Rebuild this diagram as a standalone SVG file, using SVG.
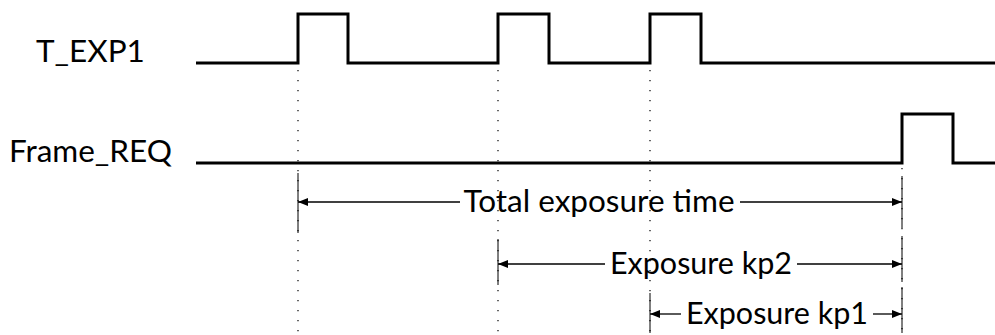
<svg xmlns="http://www.w3.org/2000/svg" width="995" height="335" viewBox="0 0 995 335">
  <defs>
    <style>
      .sig { fill: none; stroke: #000; stroke-width: 3; stroke-linejoin: miter; }
      .dot { stroke: #000; stroke-width: 1.2; stroke-dasharray: 1.2 8.8; fill: none; }
      .ext { stroke: #000; stroke-width: 1; fill: none; }
      .dim { stroke: #000; stroke-width: 1.3; fill: none; }
      .lbl { font-family: Lato, "Liberation Sans", sans-serif; font-size: 31.5px; fill: #000; }
      .sm { font-size: 30.5px; }
    </style>
    <marker id="ah" viewBox="0 0 10 8" refX="10" refY="4" markerWidth="10" markerHeight="8" markerUnits="userSpaceOnUse" orient="auto">
      <path d="M0,0 L10,4 L0,8 Z" fill="#000"/>
    </marker>
  </defs>
  <rect width="995" height="335" fill="#fff"/>

  <g id="T_EXP1">
    <text class="lbl" x="36" y="62">T_EXP1</text>
    <path class="sig" d="M196,63 H298 V14 H348 V63 H498 V14 H549 V63 H650 V14 H701 V63 H995"/>
  </g>

  <g id="Frame_REQ">
    <text class="lbl" x="9" y="162">Frame_REQ</text>
    <path class="sig" d="M196,163 H902 V114 H953 V163 H995"/>
  </g>

  <g id="guides">
    <line class="dot" x1="298" y1="70" x2="298" y2="335"/>
    <line class="dot" x1="498" y1="70" x2="498" y2="335"/>
    <line class="dot" x1="650" y1="70" x2="650" y2="335"/>
    <line class="dot" x1="902" y1="168" x2="902" y2="335"/>
    <line class="ext" x1="298" y1="173" x2="298" y2="233"/>
    <line class="ext" x1="498" y1="239" x2="498" y2="285"/>
    <line class="ext" x1="650" y1="293" x2="650" y2="333"/>
    <line class="ext" x1="902" y1="176" x2="902" y2="228"/>
    <line class="ext" x1="902" y1="236" x2="902" y2="282"/>
    <line class="ext" x1="902" y1="287" x2="902" y2="333"/>
  </g>

  <g id="connectors">
    <line class="dim" x1="460" y1="202" x2="298" y2="202" marker-end="url(#ah)"/>
    <line class="dim" x1="740" y1="202" x2="902" y2="202" marker-end="url(#ah)"/>
    <line class="dim" x1="605" y1="264" x2="498" y2="264" marker-end="url(#ah)"/>
    <line class="dim" x1="797" y1="264" x2="902" y2="264" marker-end="url(#ah)"/>
    <line class="dim" x1="681" y1="314" x2="650" y2="314" marker-end="url(#ah)"/>
    <line class="dim" x1="873" y1="314" x2="902" y2="314" marker-end="url(#ah)"/>
  </g>

  <g id="total_exposure_time">
    <text class="lbl" x="599" y="212" text-anchor="middle">Total exposure time</text>
  </g>
  <g id="exposure_kp2">
    <text class="lbl sm" x="701" y="274" text-anchor="middle">Exposure kp2</text>
  </g>
  <g id="exposure_kp1">
    <text class="lbl sm" x="777" y="324" text-anchor="middle">Exposure kp1</text>
  </g>
</svg>
